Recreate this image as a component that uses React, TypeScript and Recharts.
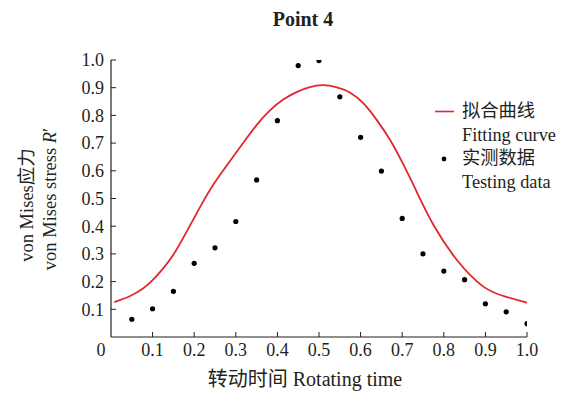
import React from 'react';
import { ComposedChart, Line, Scatter, XAxis, YAxis } from 'recharts';

// Measured (testing) data
const measuredX = [0.05, 0.1, 0.15, 0.2, 0.25, 0.3, 0.35, 0.4, 0.45, 0.5, 0.55, 0.6, 0.65, 0.7, 0.75, 0.8, 0.85, 0.9, 0.95, 1.0];
const measuredY = [0.064, 0.102, 0.165, 0.266, 0.322, 0.417, 0.567, 0.781, 0.98, 0.998, 0.867, 0.721, 0.599, 0.428, 0.3, 0.238, 0.207, 0.12, 0.091, 0.048];

// Fitting curve samples
const curveX = [0.008, 0.045, 0.077, 0.1, 0.125, 0.149, 0.173, 0.197, 0.221, 0.245, 0.269, 0.293, 0.318, 0.35, 0.382, 0.414, 0.446, 0.478, 0.51, 0.543, 0.575, 0.607, 0.639, 0.671, 0.703, 0.733, 0.775, 0.832, 0.896, 0.95, 1.0];
const curveY = [0.126, 0.147, 0.175, 0.205, 0.247, 0.295, 0.356, 0.422, 0.488, 0.548, 0.6, 0.65, 0.701, 0.765, 0.818, 0.857, 0.884, 0.902, 0.909, 0.901, 0.882, 0.843, 0.783, 0.711, 0.622, 0.53, 0.405, 0.277, 0.181, 0.145, 0.124];

const xTicks = [0, 0.1, 0.2, 0.3, 0.4, 0.5, 0.6, 0.7, 0.8, 0.9, 1.0];
const yTicks = [0.1, 0.2, 0.3, 0.4, 0.5, 0.6, 0.7, 0.8, 0.9, 1.0];

const titleText = 'Point 4';
const xLabel = '转动时间 Rotating time';
const yLabel1 = 'von Mises应力';
const yLabel2 = 'von Mises stress ';
const legendCurve = ['拟合曲线', 'Fitting curve'];
const legendData = ['实测数据', 'Testing data'];

const measured = measuredX.map((x, i) => ({ x, y: measuredY[i] }));
const curve = curveX.map((x, i) => ({ x, y: curveY[i] }));

const FONT = "'Liberation Serif', 'Noto Sans CJK SC', serif";
const TEXT = '#231f20';
const RED = '#e3262b';
const FS = 18;

const YTick = (props: any) => {
  const { x, y, payload } = props;
  return (
    <g>
      <line x1={x} y1={y} x2={x + 5} y2={y} stroke={TEXT} strokeWidth={1} />
      <text x={x - 7} y={y} dy="0.35em" textAnchor="end" fontSize={FS} fontFamily={FONT} fill={TEXT}>
        {Number(payload.value).toFixed(1)}
      </text>
    </g>
  );
};

const XTick = (props: any) => {
  const { x, y, payload } = props;
  const v = Number(payload.value);
  if (v === 0) {
    return (
      <text x={x - 10} y={y + 19} textAnchor="middle" fontSize={FS} fontFamily={FONT} fill={TEXT}>
        0
      </text>
    );
  }
  return (
    <g>
      <line x1={x} y1={y} x2={x} y2={y - 5} stroke={TEXT} strokeWidth={1} />
      <text x={x} y={y + 19} textAnchor="middle" fontSize={FS} fontFamily={FONT} fill={TEXT}>
        {v.toFixed(1)}
      </text>
    </g>
  );
};

const Dot = (p: any) => <circle cx={p.cx} cy={p.cy} r={2.6} fill="#000" />;

export default function App() {
  return (
    <div style={{ position: 'absolute', left: 0, top: 0, width: 568, height: 393, background: '#fff' }}>
      <ComposedChart
        width={568}
        height={393}
        margin={{ top: 60, right: 41, bottom: 26, left: 51 }}
      >
        <XAxis
          type="number"
          dataKey="x"
          domain={[0, 1]}
          ticks={xTicks}
          interval={0}
          tickSize={0}
          tickMargin={0}
          height={30}
          axisLine={{ stroke: TEXT, strokeWidth: 1.2 }}
          tickLine={false}
          tick={<XTick />}
          allowDataOverflow
        />
        <YAxis
          type="number"
          dataKey="y"
          domain={[0, 1]}
          ticks={yTicks}
          interval={0}
          tickSize={0}
          tickMargin={0}
          width={60}
          axisLine={{ stroke: TEXT, strokeWidth: 1.2 }}
          tickLine={false}
          tick={<YTick />}
          allowDataOverflow
        />
        <Line
          data={curve}
          dataKey="y"
          type="natural"
          stroke={RED}
          strokeWidth={1.8}
          dot={false}
          isAnimationActive={false}
        />
        <Scatter data={measured} dataKey="y" shape={<Dot />} isAnimationActive={false} />
      </ComposedChart>
      <svg
        width={568}
        height={393}
        style={{ position: 'absolute', left: 0, top: 0, pointerEvents: 'none' }}
      >
        <text x={303} y={26} textAnchor="middle" fontSize={20} fontWeight="bold" fontFamily={FONT} fill={TEXT}>
          {titleText}
        </text>
        <text x={305} y={386} textAnchor="middle" fontSize={20} fontFamily={FONT} fill={TEXT}>
          {xLabel}
        </text>
        <text
          transform="translate(27,205) rotate(-90)"
          dy="0.35em"
          textAnchor="middle"
          fontSize={18.5}
          fontFamily={FONT}
          fill={TEXT}
        >
          {yLabel1}
        </text>
        <text
          transform="translate(50,199) rotate(-90)"
          dy="0.35em"
          textAnchor="middle"
          fontSize={18.5}
          fontFamily={FONT}
          fill={TEXT}
        >
          {yLabel2}
          <tspan fontStyle="italic">R</tspan>
          <tspan>′</tspan>
        </text>
        <line x1={435} y1={111.5} x2={454} y2={111.5} stroke={RED} strokeWidth={1.6} />
        <text x={462} y={111} dy="0.35em" fontSize={18.3} fontFamily={FONT} fill={TEXT}>
          {legendCurve[0]}
        </text>
        <text x={462} y={135} dy="0.35em" fontSize={18.3} fontFamily={FONT} fill={TEXT}>
          {legendCurve[1]}
        </text>
        <circle cx={444} cy={159} r={2.4} fill="#000" />
        <text x={462} y={158} dy="0.35em" fontSize={18.3} fontFamily={FONT} fill={TEXT}>
          {legendData[0]}
        </text>
        <text x={462} y={182} dy="0.35em" fontSize={18.3} fontFamily={FONT} fill={TEXT}>
          {legendData[1]}
        </text>
      </svg>
    </div>
  );
}
